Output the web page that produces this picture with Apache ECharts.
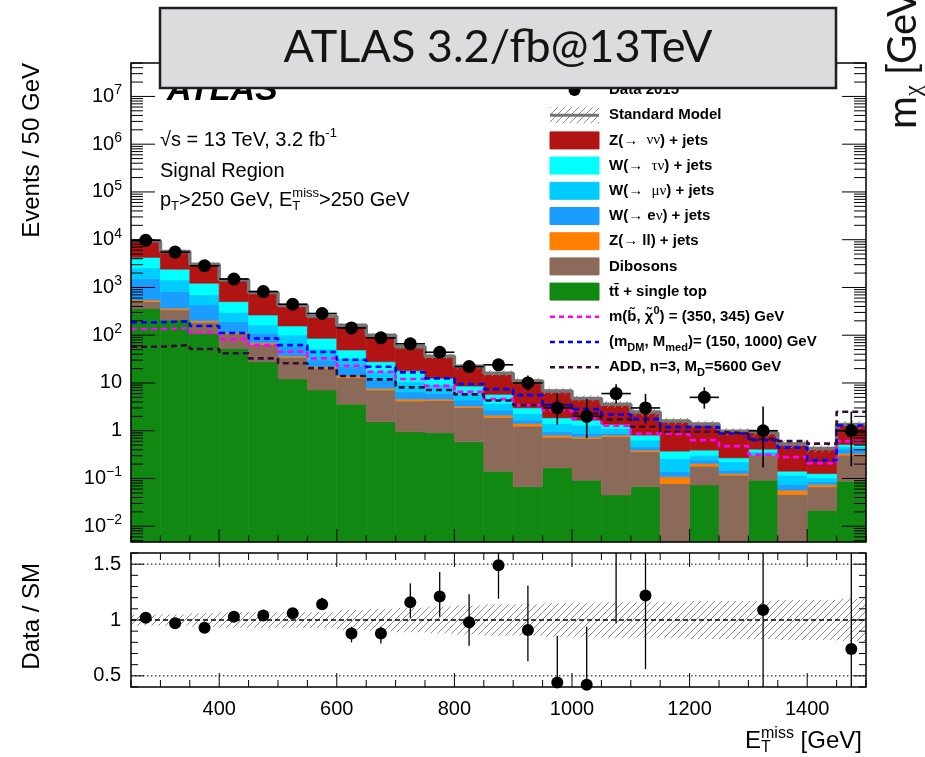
<!DOCTYPE html>
<html>
<head>
<meta charset="utf-8">
<script src="https://cdn.jsdelivr.net/npm/echarts@6.0.0/dist/echarts.min.js"></script>
<style>
html,body{margin:0;padding:0;background:#ffffff;}
#chart{width:925px;height:757px;}
</style>
</head>
<body>
<div id="chart"></div>
<script>
// ---------------- data ----------------
const binLow = [250,300,350,400,450,500,550,600,650,700,750,800,850,900,950,1000,1050,1100,1150,1200,1250,1300,1350,1400,1450];
const binWidth = 50;

const ttbar   = [366,208,110,53,27.8,12.1,7.1,3.6,1.54,0.95,0.9,0.585,0.142,0.067,0.167,0.092,0.045,0.067,0,0.073,0,0.092,0,0.0216,0.088];
const diboson = [138,130,76,53,36.7,22.3,13.1,9.3,5.56,3.23,3.38,2.43,1.76,1.18,0.557,0.598,0.70,0.294,0.0785,0.108,0.117,0.206,0.046,0.045,0.22];
const zll     = [43,28,15,7,5.1,2.2,1.7,1.1,0.6,0.42,0.32,0.26,0.22,0.17,0.085,0.055,0.064,0.031,0.030,0.025,0.010,0.010,0.011,0.008,0.026];
const wenu    = [960,451,229,79,40,20.8,8.3,7.9,3.8,1.9,1.45,1.1,0.58,0.25,0.14,0.13,0.068,0.067,0.030,0.036,0.022,0.010,0.018,0.010,0.077];
const wmunu   = [1057,619,267,110,54,43.6,21.2,10.9,5.7,4.1,3.0,1.67,1.03,0.64,0.47,0.43,0.24,0.176,0.125,0.066,0.074,0.043,0.042,0.018,0.048];
const wtaunu  = [1692,974,528,202,101,55,34.7,16.2,10.6,7.4,3.5,2.56,2.04,0.71,0.44,0.36,0.24,0.174,0.11,0.084,0.047,0.05,0.025,0.024,0.057];
const znunu   = [5254,3260,1840,952,523,264,164,112,72.2,39,23.9,13.8,10.3,7.98,4.94,3.09,2.24,1.65,1.23,0.988,0.70,0.489,0.388,0.298,0.834];
const smRelUnc = [0.05,0.05,0.06,0.07,0.07,0.07,0.07,0.09,0.10,0.11,0.12,0.13,0.14,0.14,0.15,0.15,0.16,0.16,0.16,0.17,0.17,0.17,0.18,0.18,0.19];

const dataCounts  = [9700,5500,2850,1500,820,445,285,142,88,66,44,22,24,10,3,2,6,3,null,5,null,1,null,null,1];
const dataErrDown = [98,74,53,39,29,21,17,12,9.4,8.1,6.6,4.7,4.9,3.1,1.65,1.3,2.3,1.6,null,2.1,null,0.83,null,null,0.82];
const dataErrUp   = [99,75,54,40,30,22,18,13,10.4,9.1,7.7,5.8,6.0,4.3,3.0,2.6,3.4,2.9,null,3.1,null,2.2,null,null,1.5];

const ratioValues = [1.02,0.97,0.93,1.03,1.04,1.06,1.14,0.88,0.88,1.16,1.21,0.98,1.49,0.91,0.44,0.42,1.67,1.22,null,3.6,null,1.09,null,null,0.74];
const ratioLow    = [1.0,0.955,0.915,1.01,1.01,1.02,1.09,0.80,0.79,1.02,1.03,0.77,1.19,0.63,0.20,0.15,0.97,0.56,null,2.1,null,0.19,null,null,0.13];
const ratioHigh   = [1.04,0.985,0.945,1.05,1.07,1.10,1.20,0.94,0.94,1.33,1.43,1.23,1.75,1.31,0.86,0.94,2.6,2.4,null,5.8,null,3.5,null,null,1.85];

const sigSbottom = [135,140,113,83,62,45,32.8,23,17.2,12.1,8.7,6.5,4.6,3.44,2.70,1.81,1.27,0.877,0.836,0.636,0.475,0.313,0.28,0.209,0.605];
const sigDM      = [186,196,156,111,86,62,44.5,30.6,21.9,16.7,12.5,9.5,7.45,5.57,3.44,2.84,2.18,1.75,1.19,1.19,0.877,0.636,0.442,0.242,1.29];
const sigADD     = [57.4,62,51.4,41.8,32.8,25.8,20.5,14.0,11.9,8.09,7.1,5.77,4.28,3.44,3.44,2.31,1.73,1.21,0.95,0.95,0.877,0.667,0.605,0.537,2.49];

const upperTickValues = [0.01,0.1,1,10,100,1000,10000,100000,1000000,10000000];
const upperTickLabels = ['10{s|−2}','10{s|−1}','1','10','10{s|2}','10{s|3}','10{s|4}','10{s|5}','10{s|6}','10{s|7}'];
const xTickLabelValues = [400,600,800,1000,1200,1400];
const ratioTickValues = [0.5,1,1.5];
const ratioTickLabels = ['0.5','1','1.5'];
const ratioRefLines = [0.5,1,1.5];

const titleText = 'ATLAS 3.2/fb@13TeV';
const yTitleUpper = 'Events / 50 GeV';
const yTitleLower = 'Data / SM';

// ---------------- styling ----------------
const FONT = "'Liberation Sans', Arial, Helvetica, sans-serif";
const SERIF = "'Liberation Serif', 'Times New Roman', serif";
const X_MIN = 250, X_MAX = 1500;
const Y_MIN = Math.pow(10, -2.33), Y_MAX = Math.pow(10, 7.70);
const R_MIN = 0.4, R_MAX = 1.6;

const COL = {
  ttbar:'#118811', diboson:'#8c6a5a', zll:'#ff7f00', wenu:'#1a9dff', wmunu:'#00ccff',
  wtaunu:'#00ffff', znunu:'#b21414', sm:'#747474', sbottom:'#ff00ff', dm:'#0000ff', add:'#3a0a3a'
};

function makeHatch(color, size, lw) {
  const c = document.createElement('canvas');
  c.width = size; c.height = size;
  const g = c.getContext('2d');
  g.strokeStyle = color; g.lineWidth = lw;
  g.beginPath();
  g.moveTo(0, size); g.lineTo(size, 0);
  g.moveTo(-size / 2, size / 2); g.lineTo(size / 2, -size / 2);
  g.moveTo(size / 2, size * 1.5); g.lineTo(size * 1.5, size / 2);
  g.stroke();
  return c;
}
const hatchCanvas = makeHatch('#8a8a8a', 7, 1);
const hatchFill = () => ({ image: hatchCanvas, repeat: 'repeat' });

const stackComponents = [
  { name: 'tt̄ + single top', values: ttbar,   color: COL.ttbar },
  { name: 'Dibosons',        values: diboson, color: COL.diboson },
  { name: 'Z(→ ll) + jets',  values: zll,     color: COL.zll },
  { name: 'W(→ eν) + jets',  values: wenu,    color: COL.wenu },
  { name: 'W(→ μν) + jets',  values: wmunu,   color: COL.wmunu },
  { name: 'W(→ τν) + jets',  values: wtaunu,  color: COL.wtaunu },
  { name: 'Z(→ νν) + jets',  values: znunu,   color: COL.znunu }
];

function boxRenderer(styleFn, ymin, ymax) {
  return function (params, api) {
    const x0 = api.value(0), x1 = api.value(1);
    let lo = api.value(2), hi = api.value(3);
    if (!(hi > lo) || hi <= ymin || lo >= ymax) return null;
    lo = Math.max(lo, ymin); hi = Math.min(hi, ymax);
    const p0 = api.coord([x0, hi]), p1 = api.coord([x1, lo]);
    return { type: 'rect', shape: { x: p0[0], y: p0[1], width: p1[0] - p0[0], height: p1[1] - p0[1] }, style: styleFn() };
  };
}

// stacked histogram (cumulative built from the component arrays)
const cumulative = binLow.map(() => 0);
const stackSeries = stackComponents.map(c => {
  const items = binLow.map((lo, i) => {
    const base = cumulative[i];
    cumulative[i] = base + c.values[i];
    return [lo, lo + binWidth, base, cumulative[i]];
  });
  return {
    type: 'custom', name: c.name, xAxisIndex: 0, yAxisIndex: 0, z: 2, silent: true,
    encode: { x: [0, 1], y: [3] }, data: items,
    renderItem: boxRenderer(() => ({ fill: c.color, stroke: c.color, lineWidth: 0.6 }), Y_MIN, Y_MAX)
  };
});
const smTotal = cumulative.slice();

const smBandSeries = {
  type: 'custom', name: 'SM uncertainty', xAxisIndex: 0, yAxisIndex: 0, z: 3, silent: true,
  encode: { x: [0, 1], y: [3] },
  data: binLow.map((lo, i) => [lo, lo + binWidth, smTotal[i] * (1 - smRelUnc[i]), smTotal[i] * (1 + smRelUnc[i])]),
  renderItem: boxRenderer(() => ({ fill: hatchFill() }), Y_MIN, Y_MAX)
};

function stepData(values) {
  const pts = binLow.map((lo, i) => [lo, values[i]]);
  pts.push([X_MAX, values[values.length - 1]]);
  return pts;
}
const smLineSeries = {
  type: 'line', name: 'Standard Model', xAxisIndex: 0, yAxisIndex: 0, z: 4, silent: true,
  step: 'end', symbol: 'none', data: stepData(smTotal),
  lineStyle: { color: COL.sm, width: 3.5 }
};
function signalSeries(name, values, color) {
  return {
    type: 'line', name: name, xAxisIndex: 0, yAxisIndex: 0, z: 5, silent: true,
    step: 'end', symbol: 'none', data: stepData(values),
    lineStyle: { color: color, width: 2.6, type: [6, 4] }
  };
}

// data points
const dataPoints = [], dataErrItems = [];
binLow.forEach((lo, i) => {
  if (dataCounts[i] == null) return;
  dataPoints.push([lo + binWidth / 2, dataCounts[i]]);
  dataErrItems.push([lo + binWidth / 2, dataCounts[i], dataCounts[i] - dataErrDown[i], dataCounts[i] + dataErrUp[i], lo, lo + binWidth]);
});
const dataErrSeries = {
  type: 'custom', name: 'Data errors', xAxisIndex: 0, yAxisIndex: 0, z: 6, silent: true,
  encode: { x: 0, y: 1 }, data: dataErrItems,
  renderItem: function (params, api) {
    const xc = api.value(0), v = api.value(1);
    const lo = Math.max(api.value(2), Y_MIN), hi = Math.min(api.value(3), Y_MAX);
    const pc = api.coord([xc, v]);
    const pl = api.coord([api.value(4), v]), pr = api.coord([api.value(5), v]);
    const pLo = api.coord([xc, lo]), pHi = api.coord([xc, hi]);
    return { type: 'group', children: [
      { type: 'line', shape: { x1: pl[0], y1: pc[1], x2: pr[0], y2: pc[1] }, style: { stroke: '#000', lineWidth: 1.6 } },
      { type: 'line', shape: { x1: pc[0], y1: pLo[1], x2: pc[0], y2: pHi[1] }, style: { stroke: '#000', lineWidth: 1.6 } }
    ] };
  }
};
const dataSeries = {
  type: 'scatter', name: 'Data 2015', xAxisIndex: 0, yAxisIndex: 0, z: 7, silent: true,
  symbol: 'circle', symbolSize: 13, data: dataPoints, itemStyle: { color: '#000', opacity: 1 }
};

// ratio panel
const ratioPoints = [], ratioErrItems = [];
binLow.forEach((lo, i) => {
  if (ratioValues[i] == null) return;
  ratioPoints.push([lo + binWidth / 2, ratioValues[i]]);
  ratioErrItems.push([lo + binWidth / 2, ratioLow[i], ratioHigh[i]]);
});
const ratioBandSeries = {
  type: 'custom', name: 'SM uncertainty ratio', xAxisIndex: 1, yAxisIndex: 1, z: 2, silent: true,
  encode: { x: [0, 1], y: [3] },
  data: binLow.map((lo, i) => [lo, lo + binWidth, 1 - smRelUnc[i], 1 + smRelUnc[i]]),
  renderItem: boxRenderer(() => ({ fill: hatchFill() }), R_MIN, R_MAX)
};
const ratioRefSeries = ratioRefLines.map(v => ({
  type: 'line', xAxisIndex: 1, yAxisIndex: 1, z: 3, silent: true, symbol: 'none',
  data: [[X_MIN, v], [X_MAX, v]],
  lineStyle: { color: '#000', width: v === 1 ? 1.5 : 1, type: v === 1 ? [5, 3] : [1.5, 2.5] }
}));
const ratioErrSeries = {
  type: 'custom', name: 'Ratio errors', xAxisIndex: 1, yAxisIndex: 1, z: 6, silent: true,
  encode: { x: 0, y: 1 }, data: ratioErrItems,
  renderItem: function (params, api) {
    const xc = api.value(0);
    const lo = Math.max(api.value(1), R_MIN), hi = Math.min(api.value(2), R_MAX);
    if (hi <= lo) return null;
    const a = api.coord([xc, lo]), b = api.coord([xc, hi]);
    return { type: 'line', shape: { x1: a[0], y1: a[1], x2: b[0], y2: b[1] }, style: { stroke: '#000', lineWidth: 1.3 } };
  }
};
const ratioSeries = {
  type: 'scatter', name: 'Data / SM', xAxisIndex: 1, yAxisIndex: 1, z: 7, silent: true,
  symbol: 'circle', symbolSize: 12, data: ratioPoints, itemStyle: { color: '#000', opacity: 1 }
};

// frames and ticks (drawn through the axes' own coordinate mapping)
function seg(ch, x1, y1, x2, y2) {
  ch.push({ type: 'line', shape: { x1, y1, x2, y2 }, style: { stroke: '#000', lineWidth: 1 } });
}
const upperFrameSeries = {
  type: 'custom', name: 'upper frame', xAxisIndex: 0, yAxisIndex: 0, z: 20, silent: true,
  data: [[X_MIN, 1]],
  renderItem: function (params, api) {
    const cs = params.coordSys;
    const L = cs.x, R = cs.x + cs.width, T = cs.y, B = cs.y + cs.height;
    const ch = [];
    for (let d = -3; d <= 8; d++) {
      for (let m = 1; m <= 9; m++) {
        const v = m * Math.pow(10, d);
        if (v < Y_MIN || v > Y_MAX) continue;
        const y = api.coord([X_MIN, v])[1];
        const len = m === 1 ? 24 : 12;
        seg(ch, L, y, L + len, y); seg(ch, R - len, y, R, y);
      }
    }
    for (let x = X_MIN; x <= X_MAX; x += binWidth) {
      const px = api.coord([x, 1])[0];
      const len = x % 200 === 0 ? 13 : 6.5;
      seg(ch, px, B, px, B - len); seg(ch, px, T, px, T + len);
    }
    upperTickValues.forEach((v, k) => {
      const y = api.coord([X_MIN, v])[1];
      ch.push({ type: 'text', x: L - 9, y: y, style: {
        text: upperTickLabels[k], align: 'right', verticalAlign: 'middle', textAlign: 'right', textVerticalAlign: 'middle',
        fontFamily: FONT, fontSize: 20, lineHeight: 26, fill: '#000',
        rich: { s: { fontFamily: FONT, fontSize: 14, lineHeight: 14, verticalAlign: 'top', fill: '#000' } }
      } });
    });
    ch.push({ type: 'rect', shape: { x: L, y: T, width: R - L, height: B - T }, style: { fill: 'none', stroke: '#000', lineWidth: 1.5 } });
    return { type: 'group', children: ch };
  }
};
const lowerFrameSeries = {
  type: 'custom', name: 'lower frame', xAxisIndex: 1, yAxisIndex: 1, z: 20, silent: true,
  data: [[X_MIN, 1]],
  renderItem: function (params, api) {
    const cs = params.coordSys;
    const L = cs.x, R = cs.x + cs.width, T = cs.y, B = cs.y + cs.height;
    const ch = [];
    for (let k = 4; k <= 16; k++) {
      const v = k / 10;
      const y = api.coord([X_MIN, v])[1];
      const len = (k % 5 === 0) ? 13 : 7;
      seg(ch, L, y, L + len, y); seg(ch, R - len, y, R, y);
    }
    for (let x = X_MIN; x <= X_MAX; x += binWidth) {
      const px = api.coord([x, 1])[0];
      const len = x % 200 === 0 ? 14 : 7;
      seg(ch, px, B, px, B - len); seg(ch, px, T, px, T + len);
    }
    ch.push({ type: 'rect', shape: { x: L, y: T, width: R - L, height: B - T }, style: { fill: 'none', stroke: '#000', lineWidth: 1.5 } });
    return { type: 'group', children: ch };
  }
};

// ---------------- legend and labels as graphics ----------------
const legendEntries = [
  { kind: 'marker', label: '{t|Data 2015}' },
  { kind: 'hatch',  label: '{t|Standard Model}' },
  { kind: 'box', color: COL.znunu,   label: '{t|Z(→  }{g|νν}{t|) + jets}' },
  { kind: 'box', color: COL.wtaunu,  label: '{t|W(→  }{g|τν}{t|) + jets}' },
  { kind: 'box', color: COL.wmunu,   label: '{t|W(→  }{g|μν}{t|) + jets}' },
  { kind: 'box', color: COL.wenu,    label: '{t|W(→ e}{g|ν}{t|) + jets}' },
  { kind: 'box', color: COL.zll,     label: '{t|Z(→ ll) + jets}' },
  { kind: 'box', color: COL.diboson, label: '{t|Dibosons}' },
  { kind: 'box', color: COL.ttbar,   label: '{t|tt̄ + single top}' },
  { kind: 'dash', color: COL.sbottom, label: '{t|m(b̃, χ̃}{sup|0}{t|) = (350, 345) GeV}' },
  { kind: 'dash', color: COL.dm,      label: '{t|(m}{sub|DM}{t|, M}{sub|med}{t|)= (150, 1000) GeV}' },
  { kind: 'dash', color: COL.add,     label: '{t|ADD, n=3, M}{sub|D}{t|=5600 GeV}' }
];
const legendRich = {
  t:   { fontFamily: FONT, fontWeight: 'bold', fontSize: 15, lineHeight: 22, fill: '#000' },
  g:   { fontFamily: SERIF, fontSize: 15, lineHeight: 22, fill: '#000' },
  sub: { fontFamily: FONT, fontWeight: 'bold', fontSize: 11, lineHeight: 11, verticalAlign: 'bottom', fill: '#000' },
  sup: { fontFamily: FONT, fontWeight: 'bold', fontSize: 11, lineHeight: 11, verticalAlign: 'top', fill: '#000' }
};
const graphics = [];
const LX = 550, LW = 49, LTX = 609, LY0 = 90, LDY = 25.2;
legendEntries.forEach((e, k) => {
  const y = LY0 + k * LDY;
  if (e.kind === 'marker') {
    graphics.push({ type: 'circle', z: 10, shape: { cx: LX + LW / 2, cy: y, r: 6 }, style: { fill: '#000' } });
  } else if (e.kind === 'hatch') {
    graphics.push({ type: 'rect', z: 10, shape: { x: LX, y: y - 8, width: LW, height: 16 }, style: { fill: hatchFill() } });
    graphics.push({ type: 'line', z: 11, shape: { x1: LX, y1: y, x2: LX + LW, y2: y }, style: { stroke: COL.sm, lineWidth: 3 } });
  } else if (e.kind === 'box') {
    graphics.push({ type: 'rect', z: 10, shape: { x: LX, y: y - 8.5, width: LW, height: 17 }, style: { fill: e.color, stroke: e.color, lineWidth: 1 } });
  } else {
    graphics.push({ type: 'line', z: 10, shape: { x1: LX, y1: y, x2: LX + LW, y2: y }, style: { stroke: e.color, lineWidth: 2.6, lineDash: [5, 4] } });
  }
  graphics.push({ type: 'text', z: 10, x: LTX, y: y, style: {
    text: e.label, rich: legendRich, align: 'left', verticalAlign: 'middle', textAlign: 'left', textVerticalAlign: 'middle'
  } });
});

const infoRich = {
  r:   { fontFamily: FONT, fontSize: 20, lineHeight: 26, fill: '#000' },
  sub: { fontFamily: FONT, fontSize: 13, lineHeight: 13, verticalAlign: 'bottom', fill: '#000' },
  sup: { fontFamily: FONT, fontSize: 13, lineHeight: 13, verticalAlign: 'top', fill: '#000' },
  subz:{ fontFamily: FONT, fontSize: 13, lineHeight: 13, verticalAlign: 'bottom', fill: '#000', width: 0 }
};
function txt(x, y, text, extra) {
  return Object.assign({ type: 'text', z: 12, x: x, y: y, style: Object.assign({
    text: text, rich: infoRich, align: 'left', verticalAlign: 'middle', textAlign: 'left', textVerticalAlign: 'middle'
  }, extra || {}) });
}
graphics.push({ type: 'text', z: 12, x: 167, y: 91, style: {
  text: 'ATLAS', font: "italic bold 34px 'Liberation Sans', Arial, sans-serif", fill: '#000',
  align: 'left', verticalAlign: 'middle', textAlign: 'left', textVerticalAlign: 'middle' } });
graphics.push(txt(160, 140, '{r|√s = 13 TeV, 3.2 fb}{sup|-1}'));
graphics.push(txt(160, 171, '{r|Signal Region}'));
graphics.push(txt(160, 200, '{r|p}{sub|T}{r|>250 GeV, E}{subz|T}{sup|miss}{r|>250 GeV}'));

// axis titles
graphics.push({ type: 'text', z: 12, x: 32, y: 63, rotation: Math.PI / 2, style: {
  text: yTitleUpper, font: "24px 'Liberation Sans', Arial, sans-serif", fill: '#000',
  align: 'right', verticalAlign: 'middle', textAlign: 'right', textVerticalAlign: 'middle' } });
graphics.push({ type: 'text', z: 12, x: 32, y: 563, rotation: Math.PI / 2, style: {
  text: yTitleLower, font: "24px 'Liberation Sans', Arial, sans-serif", fill: '#000',
  align: 'right', verticalAlign: 'middle', textAlign: 'right', textVerticalAlign: 'middle' } });
graphics.push(txt(745, 741, '{x|E}{xsubz|T}{xsup|miss}{x| [GeV]}', { rich: {
  x:     { fontFamily: FONT, fontSize: 24, lineHeight: 30, fill: '#000' },
  xsup:  { fontFamily: FONT, fontSize: 16, lineHeight: 16, verticalAlign: 'top', fill: '#000' },
  xsubz: { fontFamily: FONT, fontSize: 16, lineHeight: 16, verticalAlign: 'bottom', fill: '#000', width: 0 }
} }));

// title box and side text
graphics.push({ type: 'rect', z: 100, shape: { x: 160, y: 8, width: 676, height: 80 }, style: { fill: '#dcdcde', stroke: '#1e1e1e', lineWidth: 2.5 } });
graphics.push({ type: 'text', z: 101, x: 498, y: 47, style: {
  text: titleText, font: "45px Lato, 'Open Sans', sans-serif", fill: '#141414',
  align: 'center', verticalAlign: 'middle', textAlign: 'center', textVerticalAlign: 'middle' } });
graphics.push({ type: 'text', z: 101, x: 903, y: 129, rotation: Math.PI / 2, style: {
  text: '{m|m}{c|χ}{m| [GeV]}', align: 'left', verticalAlign: 'middle', textAlign: 'left', textVerticalAlign: 'middle',
  rich: {
    m: { fontFamily: "Lato, 'Open Sans', sans-serif", fontSize: 40, lineHeight: 46, fill: '#141414' },
    c: { fontFamily: SERIF, fontSize: 24, lineHeight: 24, verticalAlign: 'bottom', fill: '#141414' }
  } } });

// ---------------- chart ----------------
const option = {
  animation: false,
  backgroundColor: '#ffffff',
  grid: [
    { left: 131, right: 59, top: 63, height: 479, outerBoundsMode: 'none' },
    { left: 131, right: 59, top: 553, height: 134, outerBoundsMode: 'none' }
  ],
  xAxis: [
    { type: 'value', gridIndex: 0, min: X_MIN, max: X_MAX,
      axisLine: { show: false }, axisTick: { show: false }, axisLabel: { show: false }, splitLine: { show: false } },
    { type: 'value', gridIndex: 1, min: X_MIN, max: X_MAX, interval: 50,
      axisLine: { show: false }, axisTick: { show: false }, splitLine: { show: false },
      axisLabel: { show: true, margin: 12, color: '#000', fontFamily: FONT, fontSize: 20,
        formatter: v => (xTickLabelValues.indexOf(Math.round(v)) >= 0 ? String(Math.round(v)) : '') } }
  ],
  yAxis: [
    { type: 'log', logBase: 10, gridIndex: 0, min: Y_MIN, max: Y_MAX,
      axisLine: { show: false }, axisTick: { show: false }, axisLabel: { show: false }, splitLine: { show: false } },
    { type: 'value', gridIndex: 1, min: R_MIN, max: R_MAX, interval: 0.1,
      axisLine: { show: false }, axisTick: { show: false }, splitLine: { show: false },
      axisLabel: { show: true, margin: 10, color: '#000', fontFamily: FONT, fontSize: 20,
        formatter: v => { for (let k = 0; k < ratioTickValues.length; k++) { if (Math.abs(v - ratioTickValues[k]) < 1e-6) return ratioTickLabels[k]; } return ''; } } }
  ],
  series: [].concat(
    stackSeries,
    [smBandSeries, smLineSeries,
     signalSeries('m(b̃, χ̃0) = (350, 345) GeV', sigSbottom, COL.sbottom),
     signalSeries('(mDM, Mmed)= (150, 1000) GeV', sigDM, COL.dm),
     signalSeries('ADD, n=3, MD=5600 GeV', sigADD, COL.add),
     dataErrSeries, dataSeries,
     ratioBandSeries],
    ratioRefSeries,
    [ratioErrSeries, ratioSeries, upperFrameSeries, lowerFrameSeries]
  ),
  graphic: graphics
};

const chart = echarts.init(document.getElementById('chart'), null, { renderer: 'canvas', width: 925, height: 757 });
chart.setOption(option);
</script>
</body>
</html>
